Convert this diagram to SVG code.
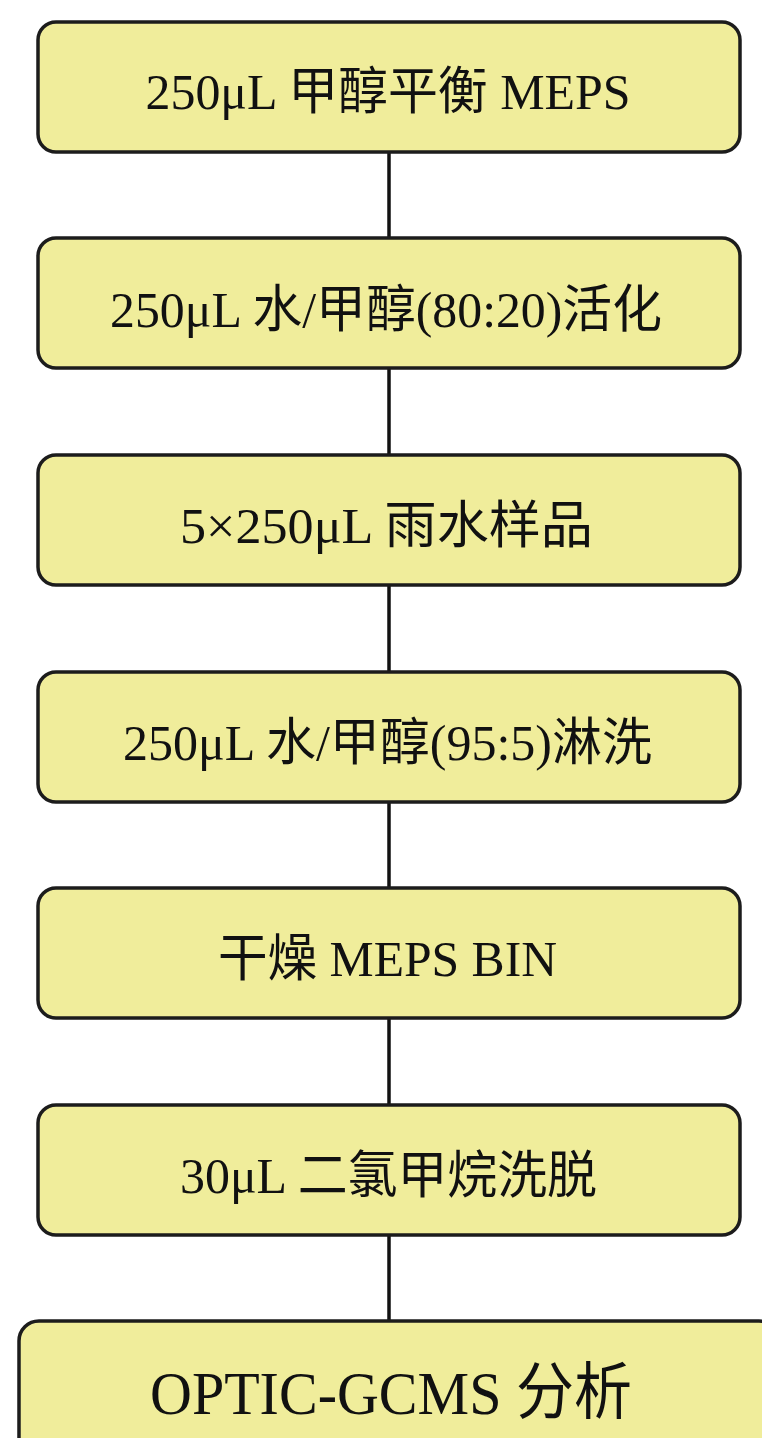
<svg xmlns="http://www.w3.org/2000/svg" width="762" height="1438" viewBox="0 0 762 1438">
<style>
.box{fill:#F0ED9B;stroke:#1c1c1c;stroke-width:3.5}
.lbl{font-family:"Liberation Serif","Noto Sans CJK SC",serif;font-size:51px;fill:#111;text-anchor:middle}
.big{font-size:62px}
.conn{stroke:#111;stroke-width:3.5;fill:none}
</style>
<rect width="762" height="1438" fill="#ffffff"/>
<g id="connectors">
<line class="conn" x1="389" y1="152" x2="389" y2="238"/>
<line class="conn" x1="389" y1="368" x2="389" y2="455"/>
<line class="conn" x1="389" y1="585" x2="389" y2="672"/>
<line class="conn" x1="389" y1="802" x2="389" y2="888"/>
<line class="conn" x1="389" y1="1018" x2="389" y2="1105"/>
<line class="conn" x1="389" y1="1235" x2="389" y2="1321"/>
</g>
<g id="node1">
<rect class="box" x="38" y="22" width="702" height="130" rx="18"/>
<text class="lbl" x="388" y="109" textLength="485" lengthAdjust="spacingAndGlyphs">250μL 甲醇平衡 MEPS</text>
</g>
<g id="node2">
<rect class="box" x="38" y="238" width="702" height="130" rx="18"/>
<text class="lbl" x="386" y="327" textLength="552" lengthAdjust="spacingAndGlyphs">250μL 水/甲醇(80:20)活化</text>
</g>
<g id="node3">
<rect class="box" x="38" y="455" width="702" height="130" rx="18"/>
<text class="lbl" x="386.5" y="543" textLength="413" lengthAdjust="spacingAndGlyphs">5×250μL 雨水样品</text>
</g>
<g id="node4">
<rect class="box" x="38" y="672" width="702" height="130" rx="18"/>
<text class="lbl" x="387.5" y="760" textLength="529" lengthAdjust="spacingAndGlyphs">250μL 水/甲醇(95:5)淋洗</text>
</g>
<g id="node5">
<rect class="box" x="38" y="888" width="702" height="130" rx="18"/>
<text class="lbl" x="387.5" y="976" textLength="339" lengthAdjust="spacingAndGlyphs">干燥 MEPS BIN</text>
</g>
<g id="node6">
<rect class="box" x="38" y="1105" width="702" height="130" rx="18"/>
<text class="lbl" x="388.5" y="1193" textLength="417" lengthAdjust="spacingAndGlyphs">30μL 二氯甲烷洗脱</text>
</g>
<g id="node7">
<rect class="box" x="19" y="1321" width="760" height="150" rx="20"/>
<text class="lbl big" x="391" y="1414" textLength="482" lengthAdjust="spacingAndGlyphs">OPTIC-GCMS 分析</text>
</g>
</svg>
